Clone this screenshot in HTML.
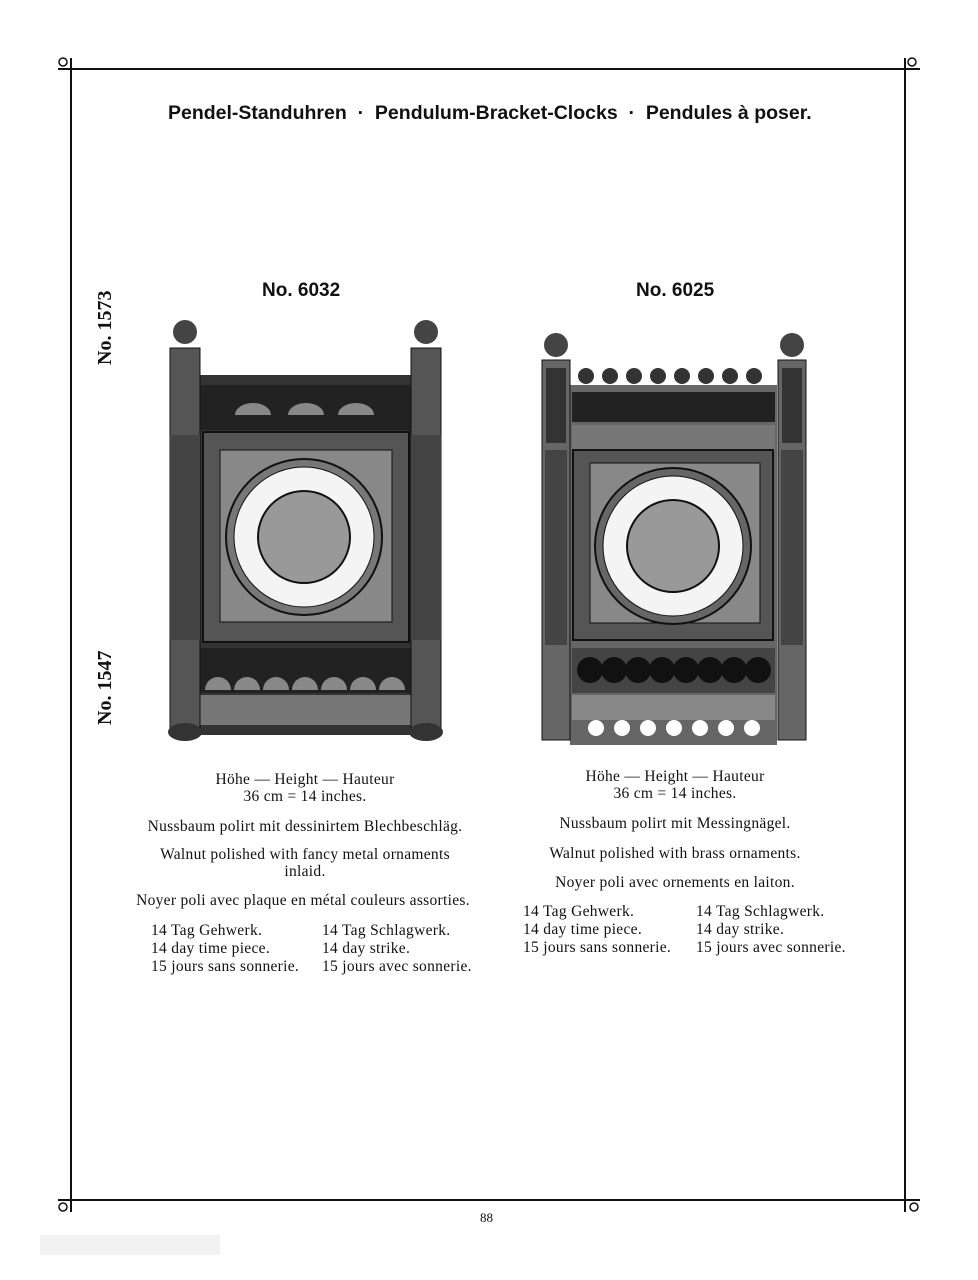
<!DOCTYPE html>
<html><head><meta charset="utf-8"><style>
body{margin:0;background:#fff;}
.p{position:relative;width:978px;height:1280px;overflow:hidden;background:#fff;font-family:"Liberation Serif",serif;color:#111;}
.a{position:absolute;white-space:nowrap;}
.t{font-family:"Liberation Sans",sans-serif;font-weight:bold;font-size:19.5px;letter-spacing:0;top:102px;}
.n{font-family:"Liberation Sans",sans-serif;font-weight:bold;font-size:19px;}
.s{font-size:15.5px;letter-spacing:0.3px;}
.c{text-align:center;}
.v{font-family:"Liberation Serif",serif;font-weight:bold;font-size:20px;transform:rotate(-90deg);transform-origin:left top;}
</style></head><body><div class="p">
<svg width="978" height="1280" style="position:absolute;left:0;top:0">
<rect x="0" y="0" width="978" height="1280" fill="#fff"/>
<rect x="40" y="1235" width="180" height="20" fill="#f2f2f2"/>
<line x1="58" y1="69" x2="920" y2="69" stroke="#111" stroke-width="2"/>
<line x1="58" y1="1200" x2="920" y2="1200" stroke="#111" stroke-width="2"/>
<line x1="71" y1="58" x2="71" y2="1212" stroke="#111" stroke-width="2"/>
<line x1="905" y1="58" x2="905" y2="1212" stroke="#111" stroke-width="2"/>
<g fill="none" stroke="#111" stroke-width="1.5"><circle cx="63" cy="62" r="4"/><circle cx="912" cy="62" r="4"/><circle cx="63" cy="1207" r="4"/><circle cx="914" cy="1207" r="4"/></g>
<!-- left clock -->
<g>
<rect x="200" y="375" width="212" height="360" fill="#333"/>
<rect x="200" y="385" width="212" height="45" fill="#222"/>
<g fill="#888"><path d="M235 415a18 12 0 0 1 36 0z"/><path d="M288 415a18 12 0 0 1 36 0z"/><path d="M338 415a18 12 0 0 1 36 0z"/></g>
<rect x="203" y="432" width="206" height="210" fill="#555" stroke="#111" stroke-width="2"/>
<rect x="220" y="450" width="172" height="172" fill="#888" stroke="#111"/>
<circle cx="304" cy="537" r="78" fill="#777" stroke="#111" stroke-width="2"/>
<circle cx="304" cy="537" r="70" fill="#f4f4f4" stroke="#111"/>
<circle cx="304" cy="537" r="46" fill="#999" stroke="#111" stroke-width="2"/>
<rect x="200" y="648" width="212" height="45" fill="#222"/>
<g fill="#888"><path d="M205 690a13 13 0 0 1 26 0z"/><path d="M234 690a13 13 0 0 1 26 0z"/><path d="M263 690a13 13 0 0 1 26 0z"/><path d="M292 690a13 13 0 0 1 26 0z"/><path d="M321 690a13 13 0 0 1 26 0z"/><path d="M350 690a13 13 0 0 1 26 0z"/><path d="M379 690a13 13 0 0 1 26 0z"/></g>
<rect x="200" y="695" width="212" height="30" fill="#777"/>
<rect x="170" y="348" width="30" height="380" fill="#555" stroke="#111"/>
<rect x="411" y="348" width="30" height="380" fill="#555" stroke="#111"/>
<rect x="170" y="435" width="30" height="205" fill="#444"/>
<rect x="411" y="435" width="30" height="205" fill="#444"/>
<ellipse cx="185" cy="332" rx="12" ry="12" fill="#444"/><ellipse cx="426" cy="332" rx="12" ry="12" fill="#444"/>
<ellipse cx="185" cy="732" rx="17" ry="9" fill="#333"/><ellipse cx="426" cy="732" rx="17" ry="9" fill="#333"/>
</g>
<!-- right clock -->
<g>
<g fill="#333"><circle cx="586" cy="376" r="8"/><circle cx="610" cy="376" r="8"/><circle cx="634" cy="376" r="8"/><circle cx="658" cy="376" r="8"/><circle cx="682" cy="376" r="8"/><circle cx="706" cy="376" r="8"/><circle cx="730" cy="376" r="8"/><circle cx="754" cy="376" r="8"/></g>
<rect x="570" y="385" width="207" height="360" fill="#666"/>
<rect x="572" y="392" width="203" height="30" fill="#222"/>
<rect x="572" y="425" width="203" height="25" fill="#777"/>
<rect x="573" y="450" width="200" height="190" fill="#555" stroke="#111" stroke-width="2"/>
<rect x="590" y="463" width="170" height="160" fill="#888" stroke="#111"/>
<circle cx="673" cy="546" r="78" fill="#666" stroke="#111" stroke-width="2"/>
<circle cx="673" cy="546" r="70" fill="#f4f4f4" stroke="#111"/>
<circle cx="673" cy="546" r="46" fill="#999" stroke="#111" stroke-width="2"/>
<rect x="572" y="648" width="203" height="45" fill="#444"/>
<g fill="#111"><circle cx="590" cy="670" r="13"/><circle cx="614" cy="670" r="13"/><circle cx="638" cy="670" r="13"/><circle cx="662" cy="670" r="13"/><circle cx="686" cy="670" r="13"/><circle cx="710" cy="670" r="13"/><circle cx="734" cy="670" r="13"/><circle cx="758" cy="670" r="13"/></g>
<rect x="572" y="695" width="203" height="25" fill="#888"/>
<g fill="#fff"><circle cx="596" cy="728" r="8"/><circle cx="622" cy="728" r="8"/><circle cx="648" cy="728" r="8"/><circle cx="674" cy="728" r="8"/><circle cx="700" cy="728" r="8"/><circle cx="726" cy="728" r="8"/><circle cx="752" cy="728" r="8"/></g>
<rect x="542" y="360" width="28" height="380" fill="#666" stroke="#111"/>
<rect x="778" y="360" width="28" height="380" fill="#666" stroke="#111"/>
<rect x="545" y="450" width="22" height="195" fill="#444"/><rect x="781" y="450" width="22" height="195" fill="#444"/>
<rect x="546" y="368" width="20" height="75" fill="#333"/><rect x="782" y="368" width="20" height="75" fill="#333"/>
<circle cx="556" cy="345" r="12" fill="#444"/><circle cx="792" cy="345" r="12" fill="#444"/>
</g>
</svg>
<div class="a t" style="left:168px">Pendel-Standuhren &nbsp;·&nbsp; Pendulum-Bracket-Clocks &nbsp;·&nbsp; Pendules à poser.</div>
<div class="a n" style="left:262px;top:280px">No. 6032</div>
<div class="a n" style="left:636px;top:280px">No. 6025</div>
<div class="a v" style="left:94px;top:365px">No. 1573</div>
<div class="a v" style="left:94px;top:725px">No. 1547</div>
<div class="a s c" style="left:130px;width:350px;top:771px;line-height:17px">Höhe — Height — Hauteur<br>36 cm = 14 inches.</div>
<div class="a s c" style="left:130px;width:350px;top:818px">Nussbaum polirt mit dessinirtem Blechbeschläg.</div>
<div class="a s c" style="left:130px;width:350px;top:846px;line-height:17px">Walnut polished with fancy metal ornaments<br>inlaid.</div>
<div class="a s c" style="left:128px;width:350px;top:892px">Noyer poli avec plaque en métal couleurs assorties.</div>
<div class="a s" style="left:151px;top:922px;line-height:18px">14 Tag Gehwerk.<br>14 day time piece.<br>15 jours sans sonnerie.</div>
<div class="a s" style="left:322px;top:922px;line-height:18px">14 Tag Schlagwerk.<br>14 day strike.<br>15 jours avec sonnerie.</div>
<div class="a s c" style="left:500px;width:350px;top:768px;line-height:17px">Höhe — Height — Hauteur<br>36 cm = 14 inches.</div>
<div class="a s c" style="left:500px;width:350px;top:815px">Nussbaum polirt mit Messingnägel.</div>
<div class="a s c" style="left:500px;width:350px;top:845px">Walnut polished with brass ornaments.</div>
<div class="a s c" style="left:500px;width:350px;top:874px">Noyer poli avec ornements en laiton.</div>
<div class="a s" style="left:523px;top:903px;line-height:18px">14 Tag Gehwerk.<br>14 day time piece.<br>15 jours sans sonnerie.</div>
<div class="a s" style="left:696px;top:903px;line-height:18px">14 Tag Schlagwerk.<br>14 day strike.<br>15 jours avec sonnerie.</div>
<div class="a" style="left:480px;top:1210px;font-size:13px">88</div>
</div></body></html>
